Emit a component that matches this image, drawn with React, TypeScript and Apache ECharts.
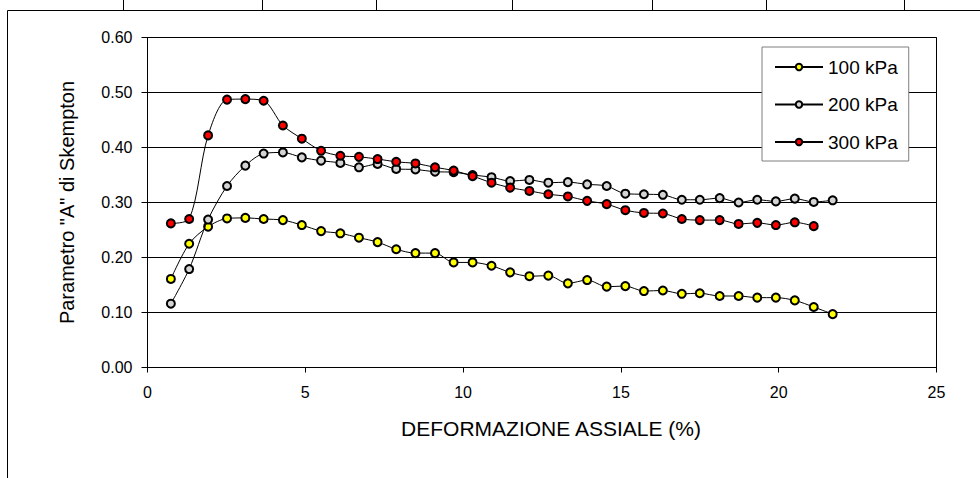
import React, { useEffect, useRef } from "react";
import * as echarts from "echarts";

const strain = [0.74, 1.32, 1.92, 2.52, 3.10, 3.68, 4.29, 4.89, 5.50, 6.11, 6.70, 7.29, 7.88, 8.49, 9.11, 9.70, 10.30, 10.90, 11.49, 12.10, 12.70, 13.32, 13.93, 14.55, 15.14, 15.73, 16.33, 16.93, 17.50, 18.13, 18.73, 19.32, 19.91, 20.51, 21.11, 21.71];

const a100 = [0.161, 0.225, 0.256, 0.271, 0.272, 0.270, 0.268, 0.259, 0.248, 0.244, 0.236, 0.228, 0.215, 0.208, 0.208, 0.191, 0.191, 0.185, 0.173, 0.166, 0.167, 0.153, 0.159, 0.147, 0.148, 0.139, 0.140, 0.134, 0.135, 0.130, 0.130, 0.127, 0.127, 0.122, 0.110, 0.097];
const a200 = [0.116, 0.179, 0.269, 0.330, 0.367, 0.389, 0.391, 0.382, 0.376, 0.372, 0.364, 0.370, 0.361, 0.360, 0.356, 0.355, 0.350, 0.346, 0.339, 0.341, 0.336, 0.337, 0.333, 0.330, 0.316, 0.315, 0.314, 0.305, 0.305, 0.308, 0.300, 0.305, 0.302, 0.307, 0.301, 0.304];
const a300 = [0.262, 0.270, 0.422, 0.487, 0.488, 0.485, 0.440, 0.416, 0.394, 0.385, 0.383, 0.379, 0.374, 0.371, 0.364, 0.358, 0.348, 0.336, 0.327, 0.321, 0.315, 0.311, 0.303, 0.297, 0.286, 0.281, 0.280, 0.270, 0.268, 0.268, 0.261, 0.263, 0.259, 0.264, 0.257];

const seriesNames = ["100 kPa", "200 kPa", "300 kPa"];
const seriesFills = ["#FFFF00", "#D4D4D4", "#FF0000"];
const seriesValues = [a100, a200, a300];

const xTicks = [0, 5, 10, 15, 20, 25];
const yTicks = [0, 0.1, 0.2, 0.3, 0.4, 0.5, 0.6];

const cellBorderXs = [123, 262, 376, 512, 652, 766, 904];

const FONT = "'Liberation Sans', Arial, sans-serif";

export default function App() {
  const ref = useRef<HTMLDivElement>(null);

  useEffect(() => {
    if (!ref.current) return;
    const chart = echarts.init(ref.current, null, { renderer: "svg" });

    const series = seriesNames.map((name, i) => ({
      name,
      type: "line",
      data: seriesValues[i].map((v, k) => [strain[k], v]),
      smooth: 0.3,
      symbol: "circle",
      symbolSize: 8,
      lineStyle: { color: "#000", width: 1 },
      itemStyle: { color: seriesFills[i], borderColor: "#000", borderWidth: 2 },
      emphasis: { disabled: true },
      z: 2 + i,
    }));

    const graphics: any[] = [
      { type: "line", shape: { x1: 7.5, y1: 10.5, x2: 980, y2: 10.5 }, style: { stroke: "#000", lineWidth: 1 } },
      { type: "line", shape: { x1: 7.5, y1: 10.5, x2: 7.5, y2: 478 }, style: { stroke: "#000", lineWidth: 1 } },
      ...cellBorderXs.map((x) => ({
        type: "line",
        shape: { x1: x + 0.5, y1: 0, x2: x + 0.5, y2: 10.5 },
        style: { stroke: "#000", lineWidth: 1 },
      })),
      {
        type: "rect",
        shape: { x: 147.5, y: 37.5, width: 789, height: 330 },
        style: { fill: "none", stroke: "#000", lineWidth: 1 },
        z: 1,
      },
    ];

    chart.setOption({
      animation: false,
      backgroundColor: "#fff",
      textStyle: { fontFamily: FONT },
      grid: { left: 147.5, top: 37.5, width: 789, height: 330, containLabel: false },
      legend: {
        data: seriesNames,
        orient: "vertical",
        left: 762,
        top: 47,
        padding: [10, 11, 9, 12],
        itemWidth: 48,
        itemHeight: 8,
        itemGap: 17.5,
        backgroundColor: "#fff",
        borderColor: "#7f7f7f",
        borderWidth: 1,
        textStyle: { fontFamily: FONT, fontSize: 19, color: "#000", lineHeight: 20, padding: [0, 0, 0, 0] },
        selectedMode: false,
        z: 10,
      },
      xAxis: {
        type: "value",
        min: 0,
        max: 25,
        interval: 5,
        name: "DEFORMAZIONE ASSIALE (%)",
        nameLocation: "middle",
        nameGap: 50,
        nameTextStyle: { fontFamily: FONT, fontSize: 21, color: "#000", padding: [0, 0, 0, 18] },
        axisLine: { onZero: false, lineStyle: { color: "#000", width: 1 } },
        axisTick: { show: true, length: 5, inside: false, lineStyle: { color: "#000" } },
        axisLabel: {
          fontFamily: FONT,
          fontSize: 16,
          color: "#000",
          margin: 17,
          customValues: xTicks,
          formatter: (v: number) => String(v),
        },
        splitLine: { show: false },
      },
      yAxis: {
        type: "value",
        min: 0,
        max: 0.6,
        interval: 0.1,
        name: 'Parametro "A" di Skempton',
        nameLocation: "middle",
        nameGap: 71,
        nameTextStyle: { fontFamily: FONT, fontSize: 20, color: "#000" },
        axisLine: { show: true, lineStyle: { color: "#000", width: 1 } },
        axisTick: { show: true, length: 6, inside: false, lineStyle: { color: "#000" } },
        axisLabel: {
          fontFamily: FONT,
          fontSize: 16,
          color: "#000",
          margin: 15,
          customValues: yTicks,
          formatter: (v: number) => v.toFixed(2),
        },
        splitLine: { show: true, lineStyle: { color: "#000", width: 1 } },
      },
      graphic: graphics,
      series,
    });

    return () => chart.dispose();
  }, []);

  return (
    <div
      ref={ref}
      style={{ position: "fixed", left: 0, top: 0, width: 980, height: 478, background: "#fff" }}
    />
  );
}
